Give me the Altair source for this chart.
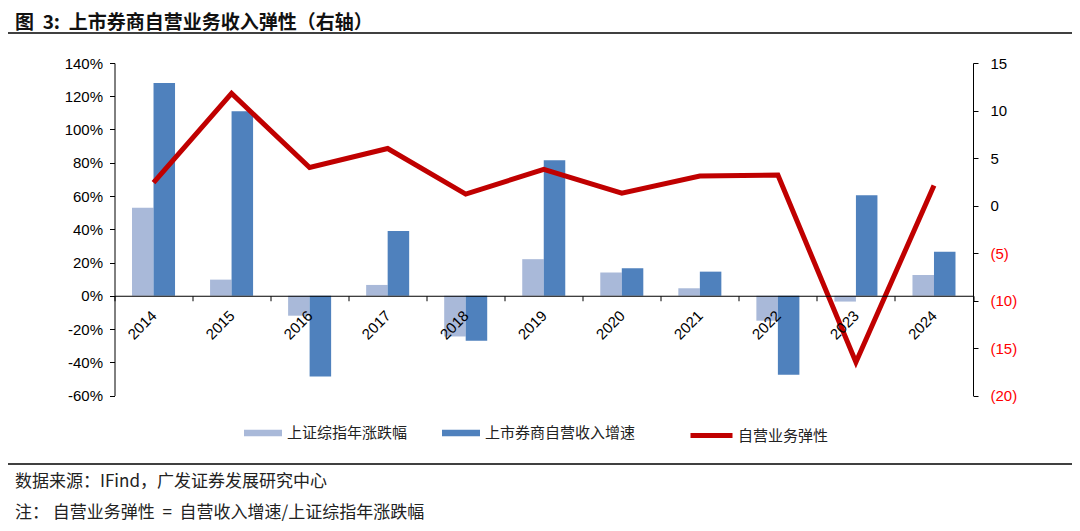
import altair as alt
import pandas as pd

# ---------------- data ----------------
years = ["2014", "2015", "2016", "2017", "2018", "2019", "2020", "2021", "2022", "2023", "2024"]
sh_index_change = [53.0, 9.7, -12.0, 6.5, -24.5, 22.0, 14.0, 4.5, -15.0, -3.5, 12.5]          # %
broker_prop_growth = [128.0, 111.0, -48.5, 39.0, -27.0, 81.5, 16.5, 14.5, -47.5, 60.5, 26.5]  # %
elasticity = [2.4, 11.8, 4.0, 6.0, 1.2, 3.8, 1.3, 3.1, 3.2, -16.5, 2.1]

bar_series = ["上证综指年涨跌幅", "上市券商自营收入增速"]
line_series = "自营业务弹性"
NB = "\u00a0"
title_text = f"图{NB}{NB}3:{NB}{NB}上市券商自营业务收入弹性（右轴）"
note_source = "数据来源：IFind，广发证券发展研究中心"
note_formula = f"注：{NB}自营业务弹性{NB}{NB}={NB}{NB}自营收入增速/上证综指年涨跌幅"

left_ticks = [-60, -40, -20, 0, 20, 40, 60, 80, 100, 120, 140]
right_ticks = [-20, -15, -10, -5, 0, 5, 10, 15]

# ---------------- style ----------------
W, H = 858.5, 332.5
LIGHT, DARK, RED = "#A9B9D9", "#4F81BD", "#C00000"
CJK = "Noto Sans CJK SC"
LAT = "Liberation Sans"
zero_offset = -H * (0 - left_ticks[0]) / (left_ticks[-1] - left_ticks[0])

bars_df = pd.DataFrame({
    "year": years * 2,
    "series": [bar_series[0]] * len(years) + [bar_series[1]] * len(years),
    "value": sh_index_change + broker_prop_growth,
})
line_df = pd.DataFrame({"year": years, "elasticity": elasticity, "series": line_series})

x_enc = alt.X(
    "year:N", sort=years,
    scale=alt.Scale(paddingInner=0, paddingOuter=0),
    axis=alt.Axis(
        title=None, orient="bottom", offset=zero_offset, labelAngle=-45,
        labelAlign="right", labelBaseline="middle", tickBand="extent",
        tickSize=5, labelPadding=12, domainColor="black", tickColor="black",
        labelFont=LAT, labelFontSize=15, labelColor="black", zindex=1,
    ),
)

bars = alt.Chart(bars_df).mark_bar().encode(
    x=x_enc,
    xOffset=alt.XOffset("series:N", sort=bar_series,
                        scale=alt.Scale(paddingOuter=0.814, paddingInner=0)),
    y=alt.Y("value:Q",
            scale=alt.Scale(domain=[left_ticks[0], left_ticks[-1]], nice=False),
            axis=alt.Axis(title=None, orient="left", values=left_ticks, grid=False,
                          labelExpr="datum.value + '%'", tickSize=5, labelPadding=7,
                          domainColor="black", tickColor="black", labelFont=LAT,
                          labelFontSize=15, labelColor="black")),
    color=alt.Color("series:N", sort=bar_series,
                    scale=alt.Scale(domain=bar_series, range=[LIGHT, DARK]),
                    legend=alt.Legend(title=None, orient="none", legendX=129.5, legendY=351,
                                      direction="horizontal", padding=0,
                                      symbolType="M-1,-0.17H1V0.17H-1Z", symbolSize=1444,
                                      symbolStrokeWidth=0, symbolOpacity=1,
                                      labelFont=CJK, labelFontSize=15, labelColor="#222",
                                      labelOffset=5, columnPadding=34)),
)

line = alt.Chart(line_df).mark_line(strokeWidth=5, strokeJoin="miter").encode(
    x=x_enc,
    y=alt.Y("elasticity:Q",
            scale=alt.Scale(domain=[right_ticks[0], right_ticks[-1]], nice=False),
            axis=alt.Axis(title=None, orient="right", values=right_ticks, grid=False,
                          labelExpr="datum.value < 0 ? '(' + abs(datum.value) + ')' : datum.value",
                          labelColor={"condition": {"test": "datum.value < 0", "value": "#FF0000"},
                                      "value": "black"},
                          tickSize=5, labelPadding=12, domainColor="black", tickColor="black",
                          labelFont=LAT, labelFontSize=15)),
    stroke=alt.Stroke("series:N",
                      scale=alt.Scale(domain=[line_series], range=[RED]),
                      legend=alt.Legend(title=None, orient="none", legendX=573.5, legendY=349,
                                        padding=0, symbolType="stroke", symbolSize=1764,
                                        symbolStrokeWidth=5, labelFont=CJK, labelFontSize=15,
                                        labelColor="#222", labelOffset=3)),
)

one = pd.DataFrame({"k": [0]})
top_rule = alt.Chart(one).mark_rule(color="black", strokeWidth=1.5).encode(
    x=alt.value(-111.5), x2=alt.value(962.5), y=alt.value(-30))
bottom_rule = alt.Chart(one).mark_rule(color="black", strokeWidth=1.5).encode(
    x=alt.value(-111.5), x2=alt.value(962.5), y=alt.value(401))

title = alt.Chart(pd.DataFrame({"t": [title_text]})).mark_text(
    align="left", baseline="middle", font=CJK, fontSize=19, fontWeight="bold", color="#111"
).encode(text="t:N", x=alt.value(-99.5), y=alt.value(-40))
note1 = alt.Chart(pd.DataFrame({"t": [note_source]})).mark_text(
    align="left", baseline="middle", font=CJK, fontSize=17, color="#222"
).encode(text="t:N", x=alt.value(-99.5), y=alt.value(419))
note2 = alt.Chart(pd.DataFrame({"t": [note_formula]})).mark_text(
    align="left", baseline="middle", font=CJK, fontSize=17, color="#222"
).encode(text="t:N", x=alt.value(-99.5), y=alt.value(450))

chart = alt.layer(bars, line, top_rule, bottom_rule, title, note1, note2).resolve_scale(
    y="independent"
).properties(
    width=W, height=H,
    autosize=alt.AutoSizeParams(type="none"),
    padding={"left": 106.5, "top": 55, "right": 99, "bottom": 127.5},
    background="white",
).configure_view(stroke=None)

chart.save("out.html", embed_options={"renderer": "svg", "actions": False})
